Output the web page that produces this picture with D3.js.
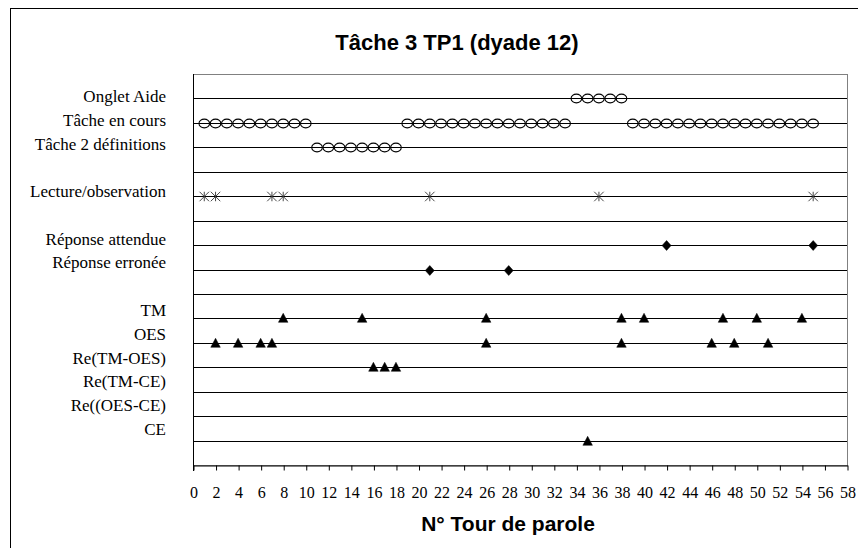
<!DOCTYPE html>
<html><head><meta charset="utf-8">
<script src="https://cdn.jsdelivr.net/npm/d3@7"></script>
<style>body{margin:0;background:#fff}svg{display:block}</style>
</head><body><svg id="c" width="858" height="548"></svg>
<script>
// ---- data ----
const title = "Tâche 3 TP1 (dyade 12)";
const xTitle = "N° Tour de parole";
const rowLabels = ["Onglet Aide","Tâche en cours","Tâche 2 définitions","Lecture/observation","Réponse attendue","Réponse erronée","TM","OES","Re(TM-OES)","Re(TM-CE)","Re((OES-CE)","CE"];
const rowLevels = [15,14,13,11,9,8,6,5,4,3,2,1];
const xTicks = [0,2,4,6,8,10,12,14,16,18,20,22,24,26,28,30,32,34,36,38,40,42,44,46,48,50,52,54,56,58];
const gridLevels = [1,2,3,4,5,6,7,8,9,10,11,12,13,14,15];

const ongletAide = [34,35,36,37,38];
const tacheEnCours = [1,2,3,4,5,6,7,8,9,10,19,20,21,22,23,24,25,26,27,28,29,30,31,32,33,39,40,41,42,43,44,45,46,47,48,49,50,51,52,53,54,55];
const tache2Definitions = [11,12,13,14,15,16,17,18];
const lectureObservation = [1,2,7,8,21,36,55];
const reponseAttendue = [42,55];
const reponseErronee = [21,28];
const tm = [8,15,26,38,40,47,50,54];
const oes = [2,4,6,7,26,38,46,48,51];
const reTmOes = [16,17,18];
const reTmCe = [];
const reOesCe = [];
const ce = [35];

const series = [
  {values: ongletAide, level: 15, marker: "circle"},
  {values: tacheEnCours, level: 14, marker: "circle"},
  {values: tache2Definitions, level: 13, marker: "circle"},
  {values: lectureObservation, level: 11, marker: "star"},
  {values: reponseAttendue, level: 9, marker: "diamond"},
  {values: reponseErronee, level: 8, marker: "diamond"},
  {values: tm, level: 6, marker: "triangle"},
  {values: oes, level: 5, marker: "triangle"},
  {values: reTmOes, level: 4, marker: "triangle"},
  {values: reTmCe, level: 3, marker: "triangle"},
  {values: reOesCe, level: 2, marker: "triangle"},
  {values: ce, level: 1, marker: "triangle"}
];

// ---- layout ----
const plot = {left: 193, right: 847, top: 74, bottom: 465};
const svg = d3.select("#c");

const x = d3.scaleLinear().domain([0,58]).range([plot.left, plot.right]);
const y = d3.scaleLinear().domain([0,16]).range([plot.bottom, plot.top]);
const labelY = d3.scaleLinear().domain([1,15]).range([429,96]);

// outer frame
svg.append("rect").attr("x",10.5).attr("y",8.5).attr("width",900).attr("height",600)
  .attr("fill","#fff").attr("stroke","#000").attr("stroke-width",1);

// plot border (top/right gray)
svg.append("rect").attr("x",plot.left+0.5).attr("y",plot.top+0.5)
  .attr("width",plot.right-plot.left).attr("height",plot.bottom-plot.top)
  .attr("fill","#fff").attr("stroke","#808080");

// gridlines
svg.append("g").selectAll("line").data(gridLevels).join("line")
  .attr("x1",plot.left).attr("x2",plot.right)
  .attr("y1",d=>Math.round(y(d))+0.5).attr("y2",d=>Math.round(y(d))+0.5)
  .attr("stroke","#000").attr("stroke-width",1);

// x axis
const xAxis = d3.axisBottom(x).tickValues(xTicks).tickSize(5).tickSizeOuter(0).tickFormat(d3.format("d"));
const gx = svg.append("g").attr("transform",`translate(0.5,${plot.bottom+0.5})`).call(xAxis);
gx.select(".domain").attr("stroke","#000");
gx.selectAll(".tick line").attr("stroke","#000");
gx.selectAll(".tick text").attr("font-family","'Liberation Serif','Times New Roman',serif")
  .attr("font-size",16).attr("fill","#000").attr("y",21);

// left axis line
svg.append("line").attr("x1",plot.left+0.5).attr("x2",plot.left+0.5)
  .attr("y1",plot.top).attr("y2",plot.bottom+6).attr("stroke","#000");

// row labels
svg.append("g").selectAll("text").data(rowLabels).join("text")
  .attr("x",166).attr("y",(d,i)=>labelY(rowLevels[i])).attr("dy","0.35em")
  .attr("text-anchor","end")
  .attr("font-family","'Liberation Serif','Times New Roman',serif").attr("font-size",17)
  .text(d=>d);

// markers
const starType = {draw(ctx, size){ const r = Math.sqrt(size)/2;
  ctx.moveTo(0,-r); ctx.lineTo(0,r);
  ctx.moveTo(-r,-r); ctx.lineTo(r,r);
  ctx.moveTo(-r,r); ctx.lineTo(r,-r);}};
const ellipseType = {draw(ctx, size){ const rx = Math.sqrt(size)/2, ry = rx*0.84;
  ctx.moveTo(rx,0);
  ctx.ellipse ? ctx.ellipse(0,0,rx,ry,0,0,2*Math.PI) : null; }};
const diamondType = {draw(ctx, size){ const r = Math.sqrt(size)/2;
  ctx.moveTo(0,-r*1.05); ctx.lineTo(r*0.95,0); ctx.lineTo(0,r*1.05); ctx.lineTo(-r*0.95,0); ctx.closePath();}};
const triType = {draw(ctx, size){ const r = Math.sqrt(size)/2;
  ctx.moveTo(0,-r*1.1); ctx.lineTo(r,r*0.8); ctx.lineTo(-r,r*0.8); ctx.closePath();}};
const sym = {
  circle: d3.symbol().type(ellipseType).size(110),
  star: d3.symbol().type(starType).size(90),
  diamond: d3.symbol().type(diamondType).size(90),
  triangle: d3.symbol().type(triType).size(90)
};
series.forEach(s=>{
  const g = svg.append("g");
  const yy = Math.round(y(s.level))+0.5;
  if (s.marker === "circle") {
    g.selectAll("ellipse").data(s.values).join("ellipse")
      .attr("cx",d=>x(d)).attr("cy",yy).attr("rx",5.3).attr("ry",4.4)
      .attr("fill","none").attr("stroke","#000").attr("stroke-width",1.1);
  } else {
    g.selectAll("path").data(s.values).join("path")
      .attr("transform",d=>`translate(${x(d)},${yy})`)
      .attr("d",sym[s.marker]())
      .attr("fill", s.marker==="star" ? "none" : "#000")
      .attr("stroke", s.marker==="star" ? "#333" : "#000")
      .attr("stroke-width", s.marker==="star"?0.9:0.5);
  }
});

// titles
svg.append("text").attr("x",457).attr("y",50).attr("text-anchor","middle")
  .attr("font-family","'Liberation Sans',Arial,sans-serif").attr("font-weight","bold")
  .attr("font-size",22).text(title);
svg.append("text").attr("x",508).attr("y",531).attr("text-anchor","middle")
  .attr("font-family","'Liberation Sans',Arial,sans-serif").attr("font-weight","bold")
  .attr("font-size",21).text(xTitle);
</script></body></html>
